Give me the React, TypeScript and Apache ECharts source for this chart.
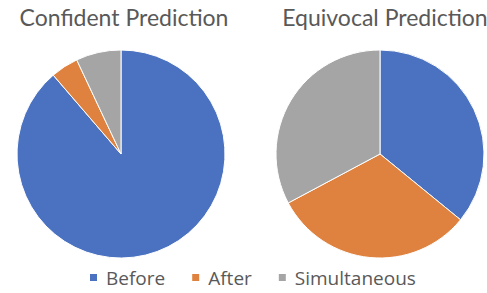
import React, { useEffect, useRef } from "react";
import * as echarts from "echarts";

const categories = ["Before", "After", "Simultaneous"];
const confidentValues = [88.7, 4.3, 7.0];
const equivocalValues = [35.9, 31.3, 32.8];
const titles = ["Confident Prediction", "Equivocal Prediction"];
const colors = ["#4A72C0", "#E0823F", "#A5A5A5"];

export default function App() {
  const ref = useRef<HTMLDivElement>(null);
  useEffect(() => {
    document.body.style.margin = "0";
    const chart = echarts.init(ref.current!, null, { renderer: "svg" });
    const titleFont = "Lato, sans-serif";
    const legendFont = "'Open Sans', sans-serif";
    const mk = (vals: number[]) => categories.map((c, i) => ({ name: c, value: vals[i] }));
    chart.setOption({
      animation: false,
      color: colors,
      title: [
        { text: titles[0], left: 119, top: 0, textAlign: "center", textStyle: { fontFamily: titleFont, fontSize: 23, fontWeight: "normal", color: "#595959" } },
        { text: titles[1], left: 380, top: 0, textAlign: "center", textStyle: { fontFamily: titleFont, fontSize: 23, fontWeight: "normal", color: "#595959" } },
      ],
      legend: {
        data: categories,
        top: 268,
        left: 88,
        padding: 0,
        icon: "rect",
        itemWidth: 9,
        itemHeight: 9,
        itemGap: 25,
        textStyle: { fontFamily: legendFont, fontSize: 19, color: "#595959", padding: [0, 0, 0, 3] },
      },
      series: [
        {
          type: "pie",
          center: [121, 154],
          radius: 104,
          startAngle: 90,
          clockwise: true,
          label: { show: false },
          labelLine: { show: false },
          itemStyle: { borderColor: "#ffffff", borderWidth: 1 },
          emphasis: { disabled: true },
          data: mk(confidentValues),
        },
        {
          type: "pie",
          center: [380, 154],
          radius: 104,
          startAngle: 90,
          clockwise: true,
          label: { show: false },
          labelLine: { show: false },
          itemStyle: { borderColor: "#ffffff", borderWidth: 1 },
          emphasis: { disabled: true },
          data: mk(equivocalValues),
        },
      ],
    });
    return () => chart.dispose();
  }, []);
  return <div ref={ref} style={{ width: 487, height: 293 }} />;
}
